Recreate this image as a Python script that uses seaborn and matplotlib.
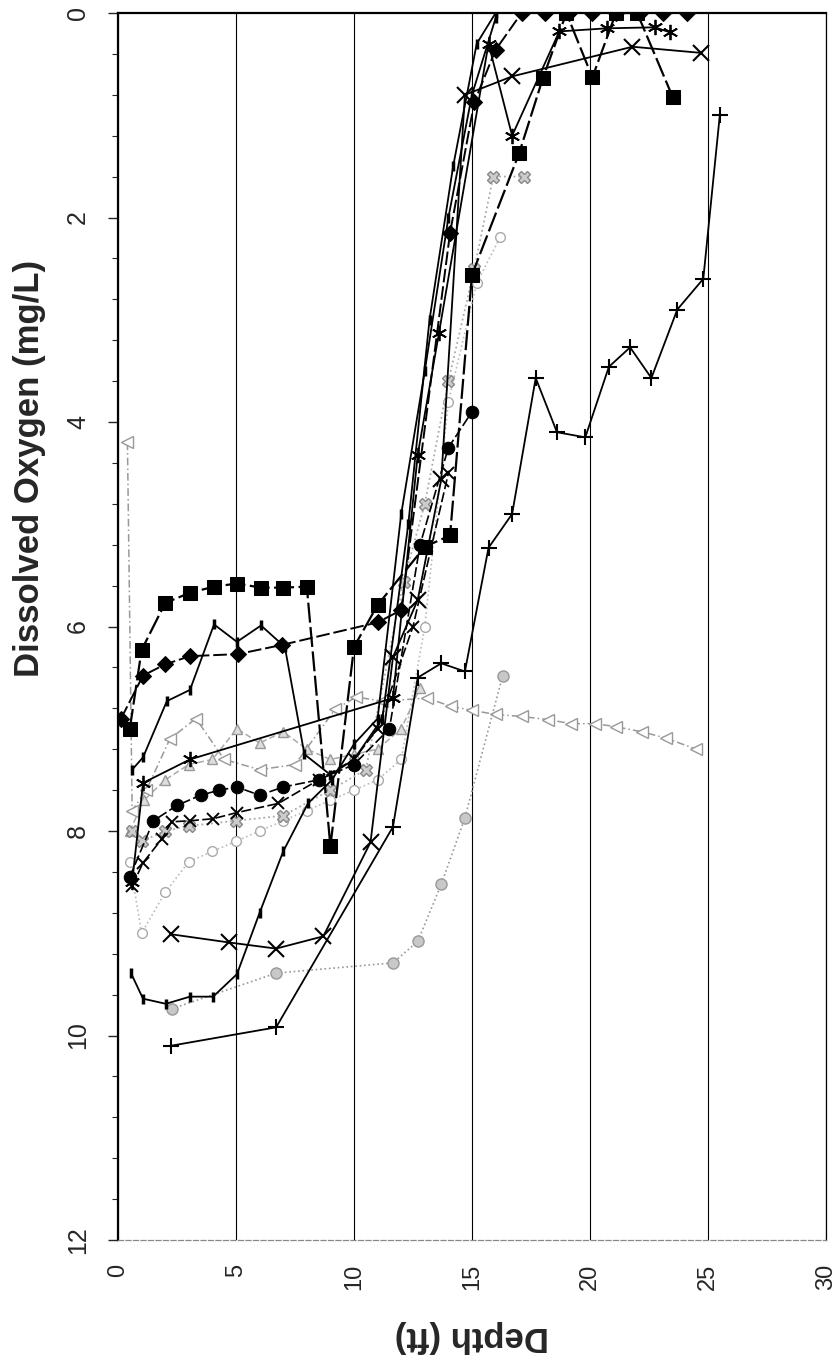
import matplotlib
matplotlib.use("Agg")
import matplotlib.pyplot as plt
import numpy as np
import seaborn as sns

# depth (ft) / dissolved oxygen (mg/L) profiles
sq_depth = [0.5, 1.0, 2.0, 3.05, 4.07, 5.04, 6.06, 7.0, 8.0, 9.0, 10.0, 11.0, 13.0, 14.07, 15.0, 17.0, 18.0, 19.0, 20.1, 21.1, 22.0, 23.5]
sq_do = [7.0, 6.23, 5.77, 5.67, 5.61, 5.58, 5.62, 5.62, 5.61, 8.15, 6.2, 5.79, 5.22, 5.11, 2.56, 1.37, 0.64, 0.0, 0.63, 0.0, 0.0, 0.82]

dia_depth = [0.13, 1.06, 2.0, 3.05, 5.08, 6.95, 11.0, 12.0, 14.07, 15.1, 16.0, 17.1, 18.1, 19.1, 20.1, 21.1, 22.1, 23.1, 24.1]
dia_do = [6.9, 6.48, 6.37, 6.29, 6.27, 6.18, 5.96, 5.84, 2.15, 0.87, 0.36, 0.0, 0.0, 0.0, 0.0, 0.0, 0.0, 0.0, 0.0]

bar_hi_depth = [0.6, 1.06, 2.07, 3.05, 4.07, 5.04, 6.06, 7.07, 7.9, 9.0, 10.0, 11.2, 12.3, 13.2, 14.2, 15.2, 16.0]
bar_hi_do = [7.4, 7.28, 6.73, 6.62, 5.98, 6.15, 5.99, 6.2, 7.25, 7.45, 7.3, 6.9, 5.0, 3.0, 1.5, 0.3, 0.0]

bar_lo_depth = [0.55, 1.06, 2.03, 3.05, 4.03, 5.04, 6.0, 7.0, 8.05, 9.07, 10.0, 11.0, 12.0, 13.0, 14.0, 15.0, 16.0]
bar_lo_do = [9.39, 9.64, 9.69, 9.62, 9.62, 9.4, 8.8, 8.2, 7.73, 7.5, 7.15, 6.9, 4.9, 3.5, 2.0, 0.8, 0.05]

xl_depth = [2.25, 4.7, 6.7, 8.7, 10.7, 11.65, 12.7, 13.7, 14.7, 16.7, 21.8, 24.7]
xl_do = [9.01, 9.09, 9.15, 9.03, 8.11, 6.3, 5.74, 4.56, 0.8, 0.62, 0.33, 0.39]

ast_depth = [0.6, 1.06, 3.05, 11.65, 12.7, 13.6, 15.7, 16.7, 18.7, 20.7, 22.75, 23.4]
ast_do = [8.5, 7.53, 7.3, 6.7, 4.32, 3.13, 0.3, 1.2, 0.18, 0.15, 0.14, 0.19]

xs_depth = [0.6, 1.06, 1.85, 2.27, 3.05, 4.03, 5.04, 6.8, 8.5, 10.0, 11.0, 12.5, 14.0]
xs_do = [8.54, 8.31, 8.08, 7.91, 7.9, 7.88, 7.82, 7.73, 7.5, 7.3, 7.0, 6.0, 4.5]

circ_depth = [0.5, 1.5, 2.5, 3.5, 4.3, 5.04, 6.0, 7.0, 8.5, 10.0, 11.5, 12.8, 14.0, 15.0]
circ_do = [8.45, 7.9, 7.75, 7.65, 7.6, 7.57, 7.65, 7.57, 7.5, 7.35, 7.0, 5.2, 4.25, 3.9]

plus_depth = [2.25, 6.7, 11.65, 12.7, 13.7, 14.7, 15.7, 16.7, 17.7, 18.6, 19.8, 20.8, 21.7, 22.6, 23.7, 24.8, 25.5]
plus_do = [10.1, 9.92, 7.96, 6.5, 6.36, 6.44, 5.23, 4.9, 3.57, 4.1, 4.15, 3.46, 3.27, 3.57, 2.9, 2.6, 1.0]

gcirc_depth = [2.27, 6.7, 11.65, 12.7, 13.7, 14.7, 16.3]
gcirc_do = [9.74, 9.39, 9.29, 9.08, 8.52, 7.87, 6.48]

tri_depth = [0.4, 0.6, 1.2, 2.2, 3.3, 4.5, 6.0, 7.5, 9.2, 10.1, 11.2, 13.1, 14.1, 15.0, 16.0, 17.1, 18.2, 19.2, 20.2, 21.1, 22.2, 23.2, 24.5]
tri_do = [4.2, 7.8, 7.6, 7.1, 6.9, 7.3, 7.4, 7.35, 6.81, 6.69, 6.73, 6.7, 6.78, 6.82, 6.86, 6.88, 6.91, 6.95, 6.95, 6.98, 7.03, 7.09, 7.2]

zig_depth = [0.5, 1.1, 2.0, 3.0, 4.0, 5.04, 6.0, 7.0, 8.0, 9.0, 10.0, 11.0, 12.0, 12.8]
zig_do = [8.0, 7.7, 7.5, 7.35, 7.3, 7.0, 7.14, 7.03, 7.2, 7.3, 7.25, 7.2, 7.0, 6.6]

xsq_depth = [0.6, 1.0, 2.0, 3.0, 5.0, 7.0, 9.0, 10.5, 12.1, 13.0, 14.0, 15.1, 15.9, 17.2]
xsq_do = [8.0, 8.1, 8.0, 7.95, 7.9, 7.85, 7.6, 7.4, 5.56, 4.8, 3.6, 2.5, 1.6, 1.6]

lc_depth = [0.5, 1.0, 2.0, 3.0, 4.0, 5.0, 6.0, 7.0, 8.0, 9.0, 10.0, 11.0, 12.0, 13.0, 14.0, 15.2, 16.2]
lc_do = [8.3, 9.0, 8.6, 8.3, 8.2, 8.1, 8.0, 7.9, 7.8, 7.7, 7.6, 7.5, 7.3, 6.0, 3.8, 2.64, 2.19]

sns.set_style("white")
plt.rcParams['font.family'] = ['Liberation Sans', 'DejaVu Sans']

fig = plt.figure(figsize=(8.35, 13.63), dpi=100)
ax = fig.add_axes([118 / 835, 1 - 1240 / 1363, (826 - 118) / 835, (1240 - 13) / 1363])


def draw(d, o, color='black', mfc=None, mec=None, **kw):
    # seaborn paints marker edges white by default, so set them here
    sns.lineplot(x=d, y=o, sort=False, estimator=None, ax=ax, color=color,
                 markerfacecolor=mfc or color, markeredgecolor=mec or color, **kw)


# light grey / grey profiles first
draw(lc_depth, lc_do, color='#bbbbbb', mfc='white', mec='#aaaaaa', linestyle=':', lw=1.2,
     marker='o', markersize=7, markeredgewidth=1.0)
draw(zig_depth, zig_do, color='#aaaaaa', mfc='#dddddd', mec='#999999', linestyle=(0, (4, 2)), lw=1.1,
     marker='^', markersize=7, markeredgewidth=1.0)
draw(tri_depth, tri_do, color='#999999', mfc='white', mec='#999999', linestyle=(0, (5, 2, 1, 2)), lw=1.1,
     marker='<', markersize=8, markeredgewidth=1.0)
draw(gcirc_depth, gcirc_do, color='#999999', mfc='#c8c8c8', mec='#999999', linestyle=':', lw=1.2,
     marker='o', markersize=8, markeredgewidth=1.0)
draw(xsq_depth, xsq_do, color='#aaaaaa', mfc='#cccccc', mec='#888888', linestyle=':', lw=1.3,
     marker='X', markersize=8, markeredgewidth=1.0)

# black profiles
draw(xs_depth, xs_do, linestyle=(0, (6, 2)), lw=1.2, marker='x', markersize=8, markeredgewidth=1.4)
draw(circ_depth, circ_do, linestyle=(0, (6, 2)), lw=1.2, marker='o', markersize=9)
draw(bar_lo_depth, bar_lo_do, lw=1.3, marker='|', markersize=7, markeredgewidth=2.5)
draw(bar_hi_depth, bar_hi_do, lw=1.3, marker='|', markersize=7, markeredgewidth=2.5)
draw(ast_depth, ast_do, lw=1.3, marker=(6, 2, 0), markersize=11, markeredgewidth=1.3)
draw(xl_depth, xl_do, lw=1.3, marker='x', markersize=11, markeredgewidth=1.5)
draw(plus_depth, plus_do, lw=1.3, marker='+', markersize=12, markeredgewidth=1.5)
draw(dia_depth, dia_do, linestyle=(0, (7, 2)), lw=1.4, marker='D', markersize=8)
draw(sq_depth, sq_do, linestyle=(0, (9, 2)), lw=1.6, marker='s', markersize=10)

ax.set_xlim(0, 30)
ax.set_ylim(12, 0)
ax.set_xticks(range(0, 31, 5))
ax.set_yticks(range(0, 13, 2))
ax.set_yticks(np.arange(0, 12.01, 0.4), minor=True)
ax.set_xlabel('')
ax.set_ylabel('')
ax.xaxis.grid(True, color='black', lw=0.8)
ax.yaxis.grid(False)

ax.tick_params(axis='x', labelrotation=90, labelsize=17, pad=17, length=0)
ax.tick_params(axis='y', which='major', labelrotation=90, labelsize=18, pad=13,
               direction='out', length=7, width=1, left=True)
ax.tick_params(axis='y', which='minor', direction='out', length=4, width=0.8, left=True)
for lab in ax.get_yticklabels():
    lab.set_va('center')

for s in ax.spines.values():
    s.set_visible(True)
    s.set_color('black')
ax.spines['left'].set_linewidth(1.6)
ax.spines['top'].set_linewidth(1.6)
ax.spines['right'].set_linewidth(0.9)
ax.spines['bottom'].set_color('#888888')
ax.spines['bottom'].set_linestyle((0, (4, 2)))
ax.spines['bottom'].set_linewidth(0.9)

fig.text(30 / 835, 1 - 468 / 1363, 'Dissolved Oxygen (mg/L)', rotation=90, ha='center', va='center',
         fontsize=25, fontweight='bold')
fig.text(472 / 835, 1 - 1337 / 1363, 'Depth (ft)', rotation=180, ha='center', va='center',
         fontsize=25, fontweight='bold')

fig.savefig('out.png', dpi=100)
